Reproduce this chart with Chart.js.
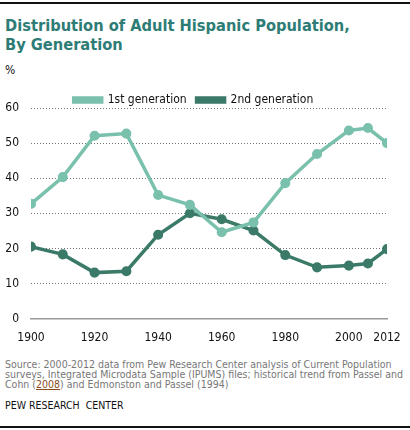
<!DOCTYPE html>
<html>
<head>
<meta charset="utf-8">
<script src="https://cdn.jsdelivr.net/npm/chart.js@4"></script>
<style>
  html, body { margin: 0; padding: 0; background: #fff; }
  body { width: 410px; height: 430px; position: relative; overflow: hidden; font-family: "DejaVu Sans Condensed", "DejaVu Sans", sans-serif; }
  .rule { position: absolute; left: 0; width: 410px; height: 2px; background: #111; }
  #title { position: absolute; left: 5px; top: 16px; font-size: 16.3px; font-weight: bold; line-height: 19px; color: #2d7c76; }
  #unit { position: absolute; left: 5px; top: 63px; font-size: 12px; color: #111; }
  #wrap { position: absolute; left: 0; top: 84px; width: 410px; height: 269px; }
  #source { position: absolute; left: 5px; top: 359px; width: 402px; font-size: 10.5px; line-height: 10px; color: #777; }
  #source u { color: #8a4a1c; }
  #credit { position: absolute; left: 5px; top: 399px; font-size: 10.5px; color: #111; }
</style>
</head>
<body>
<div class="rule" style="top:2px"></div>
<div id="title">Distribution of Adult Hispanic Population,<br>By Generation</div>
<div id="unit">%</div>
<div id="wrap"><canvas id="chart"></canvas></div>
<div id="source">Source: 2000-2012 data from Pew Research Center analysis of Current Population surveys, Integrated Microdata Sample (IPUMS) files; historical trend from Passel and Cohn (<u>2008</u>) and Edmonston and Passel (1994)</div>
<div id="credit">PEW RESEARCH&nbsp; CENTER</div>
<div class="rule" style="top:426px"></div>
<script>
const years = [1900, 1910, 1920, 1930, 1940, 1950, 1960, 1970, 1980, 1990, 2000, 2006, 2012];
const firstGen = [32.7, 40.3, 52.1, 52.7, 35.2, 32.4, 24.6, 27.4, 38.6, 46.9, 53.6, 54.3, 50.0];
const secondGen = [20.5, 18.3, 13.1, 13.5, 23.9, 30.0, 28.3, 25.1, 18.1, 14.6, 15.1, 15.7, 19.8];
const xTicks = [1900, 1920, 1940, 1960, 1980, 2000, 2012];

const LIGHT = '#79c0ad';
const DARK = '#3b7a68';
const FONT = '"DejaVu Sans Condensed", sans-serif';

function series(label, values, color) {
  return {
    label,
    data: years.map((y, i) => ({ x: y, y: values[i] })),
    borderColor: color,
    backgroundColor: color,
    borderWidth: 3.5,
    pointRadius: 3.3,
    pointHoverRadius: 3.3,
    tension: 0,
  };
}

new Chart(document.getElementById('chart'), {
  type: 'line',
  data: {
    datasets: [
      series('1st generation', firstGen, LIGHT),
      series('2nd generation', secondGen, DARK),
    ],
  },
  options: {
    responsive: true,
    maintainAspectRatio: false,
    animation: false,
    layout: { padding: { left: 0, right: 23, top: 0, bottom: 4 } },
    plugins: {
      legend: {
        display: true,
        position: 'top',
        maxHeight: 24,
        labels: {
          boxWidth: 28,
          boxHeight: 4,
          padding: 10,
          color: '#111',
          font: { family: FONT, size: 12 },
        },
      },
      tooltip: { enabled: false },
    },
    scales: {
      x: {
        type: 'linear',
        min: 1900,
        max: 2012,
        afterBuildTicks: (scale) => { scale.ticks = xTicks.map(v => ({ value: v })); },
        afterFit: (scale) => { scale.paddingLeft = 0; scale.paddingRight = 0; },
        grid: { display: false },
        border: { display: true, color: '#999', width: 1.5 },
        ticks: {
          color: '#111',
          padding: 4,
          maxRotation: 0,
          autoSkip: false,
          font: { family: FONT, size: 12 },
          callback: v => String(v),
        },
      },
      y: {
        min: 0,
        max: 60,
        afterFit: (scale) => { scale.width = 31; },
        ticks: {
          stepSize: 10,
          color: '#111',
          padding: 12,
          font: { family: FONT, size: 12 },
        },
        grid: { color: '#777', lineWidth: 1, drawTicks: false },
        border: { display: false, dash: [1, 2] },
      },
    },
  },
});
</script>
</body>
</html>
